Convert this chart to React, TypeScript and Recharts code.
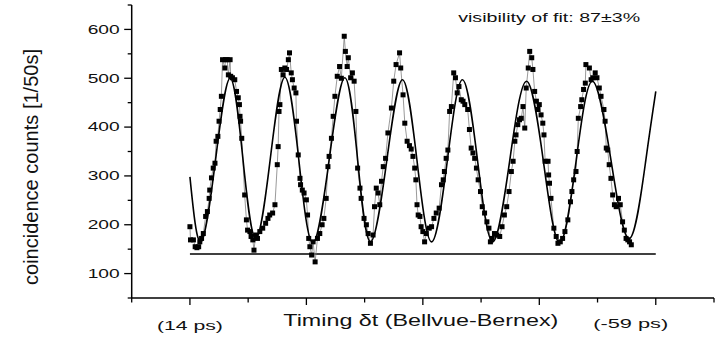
import { ComposedChart, Line, XAxis, YAxis } from "recharts";

// time axis in arbitrary delay steps (0..100), counts per 50 s
const measTime = [
  10.0, 10.1, 10.6, 10.9, 11.2, 11.5, 11.7, 12.0, 12.3, 12.7, 13.0, 13.3, 13.4, 13.7, 14.0, 14.3, 14.5, 14.8, 15.0, 15.2,
  15.4, 15.6, 16.0, 16.1, 16.4, 16.6, 16.9, 17.0, 17.3, 17.7, 18.0, 18.3, 18.5, 18.6, 18.7, 18.9, 19.4, 19.7, 19.9, 20.3,
  20.5, 20.8, 21.0, 21.3, 21.6, 22.0, 22.5, 23.0, 23.4, 23.7, 24.2, 24.6, 25.0, 25.15, 25.3, 25.45, 25.7, 26.0, 26.3, 26.6,
  26.9, 27.1, 27.4, 27.6, 27.9, 28.2, 28.3, 28.6, 28.9, 29.0, 29.3, 29.6, 30.0, 30.2, 30.4, 30.6, 30.9, 31.15, 31.5, 31.9,
  32.3, 32.7, 33.0, 33.4, 33.7, 33.9, 34.3, 34.6, 34.9, 35.3, 35.7, 36.0, 36.5, 36.7, 37.0, 37.2, 37.6, 37.9, 38.2, 38.5,
  38.8, 39.2, 39.4, 39.9, 40.3, 40.6, 41.0, 41.45, 41.7, 42.0, 42.3, 42.6, 42.9, 43.2, 43.6, 44.0, 44.6, 45.0, 45.4, 46.0,
  46.2, 46.6, 46.9, 47.3, 47.7, 48.0, 48.3, 48.6, 48.8, 49.0, 49.2, 49.5, 49.7, 50.0, 50.3, 50.6, 51.1, 51.5, 51.9, 52.3,
  52.8, 53.2, 53.5, 53.7, 54.0, 54.3, 54.6, 54.9, 55.3, 55.6, 55.9, 56.2, 56.6, 56.9, 57.2, 57.7, 58.0, 58.3, 58.6, 58.9,
  59.2, 59.5, 59.9, 60.2, 60.6, 61.0, 61.35, 61.6, 61.9, 62.3, 62.7, 63.2, 63.6, 64.0, 64.4, 64.8, 65.2, 65.5, 65.8, 66.0,
  66.3, 66.6, 66.9, 67.2, 67.5, 67.75, 68.1, 68.35, 68.7, 68.9, 69.2, 69.5, 69.75, 70.0, 70.3, 70.6, 70.8, 71.0, 71.5, 71.6,
  71.75, 72.0, 72.5, 72.9, 73.2, 73.6, 74.0, 74.4, 74.9, 75.35, 75.6, 75.9, 76.3, 76.5, 76.7, 77.1, 77.3, 77.6, 77.9, 78.0,
  78.6, 78.9, 79.2, 79.6, 79.9, 80.3, 80.6, 81.1, 81.3, 81.5, 81.75, 82.0, 82.3, 82.6, 82.9, 83.2, 83.6, 83.9, 84.3, 84.6,
  84.9, 85.2, 85.5, 85.8,
];
const measCount = [
  196, 169, 169, 155, 153, 155, 165, 172, 182, 217, 227, 254, 271, 296, 316, 326, 371, 381, 412, 436,
  463, 538, 521, 538, 538, 507, 538, 504, 501, 497, 473, 460, 446, 422, 412, 377, 261, 210, 189, 186,
  176, 169, 148, 179, 172, 186, 193, 203, 213, 220, 224, 241, 323, 360, 432, 446, 518, 507, 521, 518,
  538, 552, 511, 497, 480, 470, 412, 343, 295, 282, 271, 265, 251, 220, 172, 155, 138, 165, 124, 172,
  182, 200, 213, 254, 319, 340, 377, 422, 463, 504, 524, 500, 586, 555, 524, 542, 501, 511, 494, 432,
  316, 275, 254, 213, 200, 182, 162, 179, 237, 275, 265, 241, 289, 319, 336, 388, 439, 494, 528, 552,
  521, 466, 408, 371, 362, 355, 340, 316, 292, 241, 220, 217, 196, 186, 165, 182, 193, 196, 213, 224,
  234, 282, 292, 309, 336, 353, 432, 442, 511, 501, 470, 483, 456, 453, 446, 436, 395, 357, 347, 336,
  316, 292, 268, 237, 224, 206, 193, 165, 172, 182, 179, 176, 196, 220, 237, 268, 309, 330, 371, 384,
  405, 415, 418, 442, 398, 480, 521, 555, 542, 518, 473, 453, 436, 446, 425, 408, 384, 330, 330, 302,
  285, 254, 193, 176, 162, 165, 172, 186, 210, 247, 268, 292, 309, 350, 418, 442, 456, 477, 490, 528,
  521, 497, 501, 511, 501, 480, 463, 436, 412, 357, 353, 323, 295, 261, 241, 237, 254, 241, 206, 189,
  172, 169, 165, 159,
];

const fitTime = [
  10.0, 11.9, 14.4, 16.9, 19.1, 21.3, 23.8, 26.3, 28.7, 31.1, 33.9, 36.6, 38.8, 41.0, 43.8, 46.5,
  49.0, 51.5, 54.2, 56.8, 59.4, 62.0, 64.9, 67.8, 70.7, 73.5, 76.3, 79.1, 82.3, 85.5, 88.3, 90.0,
];
const fitCount = [
  298, 165, 333, 500, 335, 172, 335, 502, 333, 163, 332, 501, 333, 165, 331, 497,
  331, 165, 331, 497, 331, 165, 330, 494, 330, 163, 329, 494, 333, 172, 333, 473,
];

const baseTime = [10, 90];
const baseCount = [140, 140];

const xTicks = [0, 10, 20, 30, 40, 50, 60, 70, 80, 90, 100];
const yTicks = [50, 100, 150, 200, 250, 300, 350, 400, 450, 500, 550, 600, 650];
const xTickLabels: Record<number, string> = { 10: "(14 ps)", 90: "(-59 ps)" };

const measured = measTime.map((t, i) => ({ t, c: measCount[i] }));
const fit = fitTime.map((t, i) => ({ t, c: fitCount[i] }));
const baseline = baseTime.map((t, i) => ({ t, c: baseCount[i] }));

const font = "'Liberation Sans', Arial, sans-serif";

// label placement tweaks (px)
const xLabelStyle: Record<number, { dx: number; dy: number; len: number }> = {
  10: { dx: 0, dy: 32, len: 66 },
  90: { dx: -25, dy: 30, len: 75 },
};

function XTick({ x, y, payload }: any) {
  const v = payload.value;
  const major = v % 20 === 10;
  const lab = xTickLabels[v];
  const st = xLabelStyle[v];
  return (
    <g>
      <line x1={x} x2={x} y1={y} y2={y + (major ? 7 : 4.5)} stroke="#000" strokeWidth={1.3} />
      {lab && (
        <text x={x + st.dx} y={y + st.dy} textAnchor="middle" fontSize={13} fontFamily={font} fill="#111"
          textLength={st.len} lengthAdjust="spacingAndGlyphs">
          {lab}
        </text>
      )}
    </g>
  );
}

function YTick({ x, y, payload }: any) {
  const v = payload.value;
  const major = v % 100 === 0;
  return (
    <g>
      <line x1={x} x2={x - (major ? 7.5 : 4)} y1={y} y2={y} stroke="#000" strokeWidth={1.3} />
      {major && v >= 100 && v <= 600 && (
        <text x={x - 12} y={y + 4.3} textAnchor="end" fontSize={12} fontFamily={font} fill="#111"
          textLength={32} lengthAdjust="spacingAndGlyphs">
          {v}
        </text>
      )}
    </g>
  );
}

function SquareDot(p: any) {
  if (p.cx == null || p.cy == null) return <g key={`e${p.index}`} />;
  return <rect key={`d${p.index}`} x={p.cx - 2.5} y={p.cy - 2.5} width={5} height={5} fill="#000" />;
}

export default function App() {
  return (
    <div style={{ position: "absolute", left: 0, top: 0, width: 721, height: 338, background: "#fff" }}>
      <ComposedChart width={721} height={338} margin={{ top: 5, right: 7, bottom: 0, left: 0 }}>
        <XAxis
          type="number"
          dataKey="t"
          domain={[0, 100]}
          ticks={xTicks}
          interval={0}
          height={40}
          tickSize={0}
          tickMargin={0}
          tickLine={false}
          axisLine={{ stroke: "#000", strokeWidth: 1.5 }}
          tick={<XTick />}
          allowDataOverflow
          label={{
            content: () => (
              <text x={420.8} y={325.5} textAnchor="middle" fontSize={16} fontFamily={font} fill="#111"
                textLength={275} lengthAdjust="spacingAndGlyphs">
                Timing δt (Bellvue-Bernex)
              </text>
            ),
          }}
        />
        <YAxis
          type="number"
          domain={[50, 650]}
          ticks={yTicks}
          interval={0}
          width={131.7}
          tickSize={0}
          tickMargin={0}
          tickLine={false}
          axisLine={{ stroke: "#000", strokeWidth: 1.5 }}
          tick={<YTick />}
          allowDataOverflow
          label={{
            content: () => (
              <text transform="translate(37.5,167) rotate(-90)" textAnchor="middle" fontSize={20} fontFamily={font}
                fill="#111" textLength={236} lengthAdjust="spacingAndGlyphs">
                coincidence counts [1/50s]
              </text>
            ),
          }}
        />
        <Line data={baseline} dataKey="c" type="linear" stroke="#000" strokeWidth={1.4} dot={false} isAnimationActive={false} />
        <Line data={measured} dataKey="c" type="linear" stroke="#808080" strokeWidth={0.8} dot={SquareDot} activeDot={false}
          isAnimationActive={false} />
        <Line data={fit} dataKey="c" type="natural" stroke="#000" strokeWidth={1.6} dot={false} isAnimationActive={false} />
      </ComposedChart>
      <svg width={721} height={338} style={{ position: "absolute", left: 0, top: 0, pointerEvents: "none" }}>
        <text x={549.2} y={21.5} textAnchor="middle" fontSize={13.5} fontFamily={font} fill="#111"
          textLength={182} lengthAdjust="spacingAndGlyphs">
          visibility of fit: 87±3%
        </text>
      </svg>
    </div>
  );
}
